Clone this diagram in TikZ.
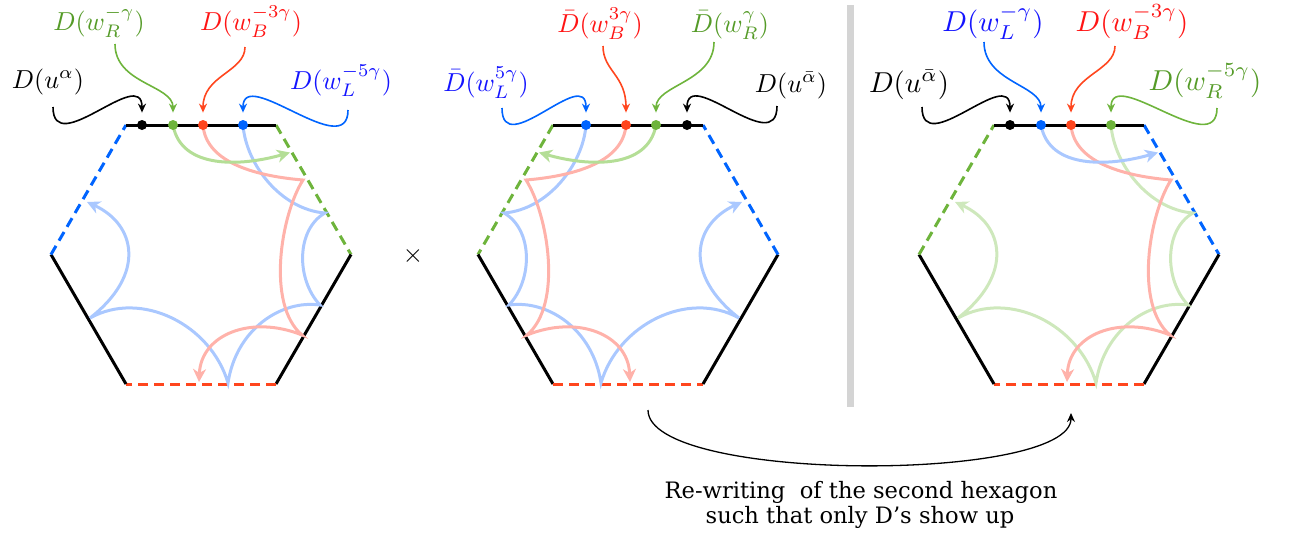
\documentclass[tikz,border=0pt]{standalone}
\usepackage{fontspec}
\newfontfamily\captfont{DejaVu Serif}
\usetikzlibrary{arrows.meta}
\pgfdeclarelayer{background}
\pgfsetlayers{background,main}
\definecolor{cblue}{RGB}{0,100,255}
\definecolor{cgreen}{RGB}{110,180,60}
\definecolor{cred}{RGB}{255,70,30}
\definecolor{lblue}{RGB}{170,200,255}
\definecolor{lred}{RGB}{255,178,170}
\definecolor{lgreenA}{RGB}{180,222,150}
\definecolor{lgreenB}{RGB}{206,232,188}
\definecolor{tblue}{RGB}{20,20,255}
\definecolor{tred}{RGB}{255,20,20}
\definecolor{tgreen}{RGB}{85,155,40}
\definecolor{barcol}{RGB}{212,212,212}
\newcommand{\lbA}[1]{\scalebox{1.3}{#1}}
\newcommand{\lbB}[1]{\scalebox{1.44}{#1}}
\tikzset{
  hexedge/.style={line width=1.5pt},
  dashededge/.style={dash pattern=on 5pt off 3pt},
  innercurve/.style={line width=1.5pt},
  dot/.style={circle, inner sep=0pt, minimum size=5pt},
  conn/.style={line width=0.8pt, -{Stealth[length=4.5pt,width=4pt]}, shorten >=3.5pt},
  lab/.style={anchor=base, inner sep=0pt},
  bigtip/.style={-{Stealth[length=6.5pt,width=6.5pt,inset=2pt]}},
  captstyle/.style={anchor=base, font=\captfont\fontsize{11.3}{13}\selectfont},
}
% #1 UL edge colour, #2 UR edge colour, #3 chain dot colour, #4 chain light colour,
% #5 arrow dot colour, #6 arrow light colour, #7 name prefix
\newcommand{\hexbody}[7]{%
  \node[dot,fill=black] (#7k) at (-59,-129.5) {};
  \node[dot,fill=#5] (#7a) at (-28,-129.5) {};
  \node[dot,fill=cred] (#7r) at (2,-129.5) {};
  \node[dot,fill=#3] (#7c) at (42,-129.5) {};
  \begin{pgfonlayer}{background}
    \draw[hexedge,dashededge,#2] (75,-129.5) -- (150,0);
    \draw[hexedge] (150,0) -- (75,129.5);
    \draw[hexedge,dashededge,cred] (75,129.5) -- (-75,129.5);
    \draw[hexedge] (-75,129.5) -- (-150,0);
    \draw[hexedge,dashededge,#1] (-150,0) -- (-75,-129.5);
    \draw[innercurve,#4,bigtip] (#7c.center)
      .. controls (45,-90) and (80,-45) .. (124,-41.5)
      .. controls (95,-25) and (95,25) .. (119,50.5)
      .. controls (80,45) and (35,75) .. (27,128.5)
      .. controls (10,70) and (-60,35) .. (-111,63.5)
      .. controls (-55,20) and (-65,-30) .. (-114,-52.5);
    \draw[innercurve,lred,bigtip] (#7r.center)
      .. controls (5,-90) and (60,-78) .. (102,-74.5)
      .. controls (80,-40) and (65,50) .. (101,80.5)
      .. controls (50,60) and (0,80) .. (-2,127.5);
    \draw[innercurve,#6,bigtip] (#7a.center)
      .. controls (-20,-85) and (40,-88) .. (89,-102);
    \draw[hexedge] (-75,-129.5) -- (75,-129.5);
  \end{pgfonlayer}
}
\begin{document}
\begin{tikzpicture}[x=0.5pt,y=-0.5pt]
\useasboundingbox (0,0) rectangle (1300,542);

% hexagons
\begin{scope}[shift={(201,254.5)}]
  \hexbody{cblue}{cgreen}{cblue}{lblue}{cgreen}{lgreenA}{h1}
\end{scope}
\begin{scope}[shift={(628,254.5)},xscale=-1]
  \hexbody{cblue}{cgreen}{cblue}{lblue}{cgreen}{lgreenA}{h2}
\end{scope}
\begin{scope}[shift={(1069,254.5)}]
  \hexbody{cgreen}{cblue}{cgreen}{lgreenB}{cblue}{lblue}{h3}
\end{scope}

% separator and times sign
\draw[line width=3.5pt, barcol] (850,5) -- (850,407);
\node[lab] (times) at (413,262) {\lbA{$\times$}};

% labels hexagon 1
\node[lab] (l1u) at (48,88) {\lbA{$D(u^{\alpha})$}};
\node[lab,tgreen] (l1g) at (99,30) {\lbA{$D(w_R^{-\gamma})$}};
\node[lab,tred] (l1r) at (251,30) {\lbA{$D(w_B^{-3\gamma})$}};
\node[lab,tblue] (l1b) at (341,89) {\lbA{$D(w_L^{-5\gamma})$}};
\coordinate (s1u) at (53,107);
\coordinate (s1g) at (115,44);
\coordinate (s1r) at (245,47);
\coordinate (s1b) at (348,110);
\draw[conn] (s1u) .. controls +(0,53) and +(0,-60) .. (h1k);
\draw[conn,cgreen] (s1g) .. controls +(0,40) and +(0,-40) .. (h1a);
\draw[conn,cred] (s1r) .. controls +(0,25) and +(0,-50) .. (h1r);
\draw[conn,cblue] (s1b) .. controls +(0,53) and +(0,-60) .. (h1c);

% labels hexagon 2
\node[lab,tblue] (l2b) at (486,91) {\lbA{$\bar D(w_L^{5\gamma})$}};
\node[lab,tred] (l2r) at (600,32) {\lbA{$\bar D(w_B^{3\gamma})$}};
\node[lab,tgreen] (l2g) at (730,32) {\lbA{$\bar D(w_R^{\gamma})$}};
\node[lab] (l2u) at (791,92) {\lbA{$D(u^{\bar\alpha})$}};
\coordinate (s2b) at (502,108);
\coordinate (s2r) at (603,46);
\coordinate (s2g) at (714,42);
\coordinate (s2u) at (777,106);
\draw[conn,cblue] (s2b) .. controls +(0,53) and +(0,-60) .. (h2c);
\draw[conn,cred] (s2r) .. controls +(0,25) and +(0,-50) .. (h2r);
\draw[conn,cgreen] (s2g) .. controls +(0,40) and +(0,-40) .. (h2a);
\draw[conn] (s2u) .. controls +(0,53) and +(0,-60) .. (h2k);

% labels hexagon 3
\node[lab] (l3u) at (909,92) {\lbB{$D(u^{\bar\alpha})$}};
\node[lab,tblue] (l3b) at (993,31) {\lbB{$D(w_L^{-\gamma})$}};
\node[lab,tred] (l3r) at (1132,31) {\lbB{$D(w_B^{-3\gamma})$}};
\node[lab,tgreen] (l3g) at (1205,90) {\lbB{$D(w_R^{-5\gamma})$}};
\coordinate (s3u) at (922,107);
\coordinate (s3b) at (984,42);
\coordinate (s3r) at (1115,46);
\coordinate (s3g) at (1217,108);
\draw[conn] (s3u) .. controls +(0,53) and +(0,-60) .. (h3k);
\draw[conn,cblue] (s3b) .. controls +(0,40) and +(0,-40) .. (h3a);
\draw[conn,cred] (s3r) .. controls +(0,25) and +(0,-50) .. (h3r);
\draw[conn,cgreen] (s3g) .. controls +(0,53) and +(0,-60) .. (h3c);

% rewriting arrow and caption
\coordinate (ra) at (648,410);
\coordinate (rb) at (1071,413);
\draw[line width=0.65pt,-{Stealth[length=4.5pt,width=4pt]}] (ra) .. controls (648,483) and (1071,483) .. (rb);
\node[captstyle] (cap1) at (861,498) {Re-writing~ of the second hexagon};
\node[captstyle] (cap2) at (860,523) {such that only D’s show up};
\end{tikzpicture}
\end{document}
